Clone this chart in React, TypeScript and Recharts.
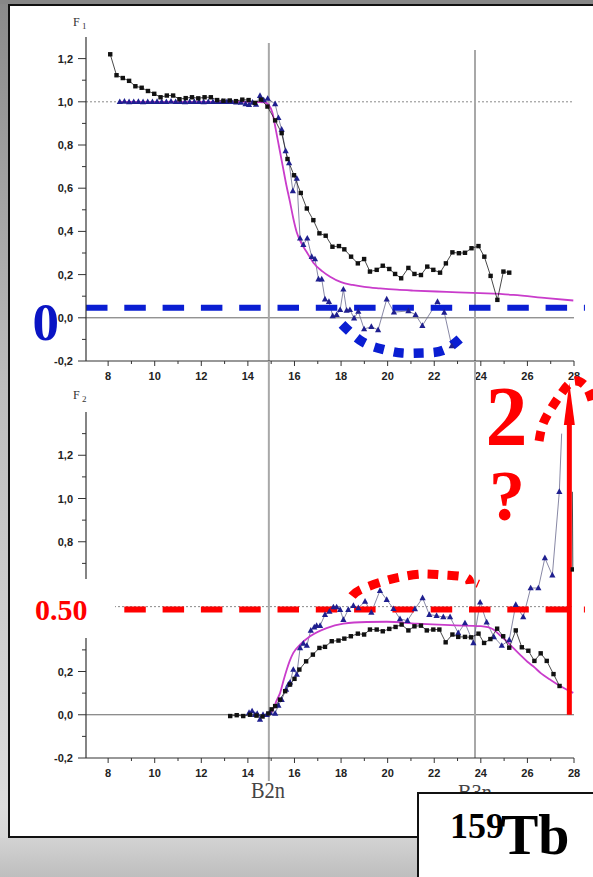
import React from 'react';
import { ComposedChart, Line, XAxis, YAxis, ReferenceLine } from 'recharts';

// ---------------- axes ----------------
const xTicks = [8, 9, 10, 11, 12, 13, 14, 15, 16, 17, 18, 19, 20, 21, 22, 23, 24, 25, 26, 27, 28];
const yTicksF1 = [-0.2, -0.1, 0, 0.1, 0.2, 0.3, 0.4, 0.5, 0.6, 0.7, 0.8, 0.9, 1.0, 1.1, 1.2];
const yTicksF2 = [-0.2, -0.1, 0, 0.1, 0.2, 0.3, 0.4, 0.5, 0.6, 0.7, 0.8, 0.9, 1.0, 1.1, 1.2, 1.3];
const f2HiddenLabels = [0.4, 0.6]; // covered by the "0.50" box in the reference
const xDomain = [7.05, 28];
const f1Domain = [-0.2, 1.3];
const f2Domain = [-0.2, 1.4];

// ---------------- F1 panel ----------------
const f1BlackX = [8.09, 8.36, 8.63, 8.9, 9.17, 9.44, 9.71, 9.98, 10.25, 10.52, 10.79, 11.06, 11.33, 11.6, 11.87, 12.14, 12.41, 12.68, 12.95, 13.22, 13.49, 13.76, 14.03, 14.3, 14.57, 14.84, 15.17, 15.45, 15.7, 15.98, 16.27, 16.53, 16.81, 17.07, 17.34, 17.63, 17.91, 18.14, 18.43, 18.72, 18.99, 19.24, 19.53, 19.79, 20.07, 20.32, 20.58, 20.89, 21.15, 21.43, 21.7, 21.96, 22.25, 22.5, 22.78, 23.06, 23.32, 23.6, 23.9, 24.15, 24.42, 24.71, 24.97, 25.22];
const f1BlackY = [1.22, 1.123, 1.11, 1.097, 1.072, 1.065, 1.05, 1.037, 1.021, 1.029, 1.029, 1.012, 1.017, 1.021, 1.016, 1.021, 1.021, 1.008, 1.005, 1.006, 1.003, 1.01, 1.008, 0.995, 1.01, 0.978, 0.914, 0.855, 0.735, 0.66, 0.578, 0.506, 0.452, 0.391, 0.38, 0.329, 0.332, 0.317, 0.283, 0.252, 0.272, 0.214, 0.222, 0.241, 0.226, 0.203, 0.183, 0.231, 0.203, 0.198, 0.237, 0.222, 0.209, 0.252, 0.303, 0.299, 0.301, 0.322, 0.332, 0.283, 0.194, 0.083, 0.214, 0.209];

const f1BlueX = [8.5, 8.7, 8.9, 9.1, 9.3, 9.5, 9.7, 9.9, 10.1, 10.3, 10.5, 10.7, 10.9, 11.1, 11.3, 11.5, 11.7, 11.9, 12.1, 12.3, 12.5, 12.7, 12.9, 13.1, 13.3, 13.5, 13.7, 13.9, 14.05, 14.2, 14.35, 14.52, 14.68, 14.85, 15.17, 15.31, 15.45, 15.62, 15.77, 15.93, 16.1, 16.24, 16.38, 16.55, 16.74, 16.88, 17.03, 17.17, 17.31, 17.48, 17.64, 17.81, 17.96, 18.1, 18.24, 18.38, 18.56, 18.74, 18.99, 19.3, 19.59, 19.96, 20.27, 20.89, 21.2, 21.49, 22.14, 22.43, 22.75];
const f1BlueY = [1.0, 1.002, 0.999, 1.0, 1.001, 0.999, 1.0, 1.0, 1.001, 1.0, 1.0, 1.002, 1.0, 1.0, 0.999, 1.0, 1.001, 1.0, 0.999, 1.0, 1.0, 1.0, 1.001, 1.0, 1.0, 0.998, 0.997, 0.99, 0.986, 0.997, 0.988, 1.028, 1.008, 1.015, 0.99, 0.926, 0.872, 0.773, 0.717, 0.587, 0.645, 0.368, 0.338, 0.368, 0.283, 0.272, 0.179, 0.179, 0.086, 0.075, 0.009, 0.014, 0.037, 0.132, 0.034, 0.037, -0.002, 0.029, -0.052, -0.041, -0.056, 0.086, 0.026, 0.032, 0.014, -0.036, 0.075, 0.025, -0.13];

const f1FitX = [8.47, 10, 12, 14, 14.7, 14.9, 15.05, 15.2, 15.35, 15.5, 15.65, 15.8, 15.95, 16.1, 16.3, 16.55, 16.81, 17.2, 17.53, 18, 18.5, 19, 19.67, 20.4, 21.1, 22.53, 23.97, 25.4, 26.83, 27.97];
const f1FitY = [1, 1, 1, 1, 0.998, 0.985, 0.95, 0.87, 0.785, 0.7, 0.615, 0.54, 0.46, 0.395, 0.345, 0.3, 0.255, 0.215, 0.19, 0.165, 0.152, 0.143, 0.136, 0.13, 0.126, 0.12, 0.114, 0.106, 0.091, 0.08];

// ---------------- F2 panel ----------------
const f2BlackX = [13.24, 13.52, 13.8, 14.09, 14.37, 14.63, 14.88, 15.02, 15.17, 15.38, 15.6, 15.81, 16.0, 16.21, 16.5, 16.79, 17.07, 17.31, 17.6, 17.89, 18.14, 18.42, 18.72, 18.99, 19.24, 19.53, 19.79, 20.07, 20.34, 20.6, 20.89, 21.15, 21.43, 21.68, 21.96, 22.22, 22.49, 22.78, 23.03, 23.32, 23.58, 23.9, 24.14, 24.41, 24.7, 24.96, 25.22, 25.5, 25.76, 26.04, 26.3, 26.57, 26.83, 27.12, 27.38];
const f2BlackY = [-0.006, -0.002, -0.006, 0.0, -0.004, -0.008, 0.006, 0.025, 0.04, 0.07, 0.109, 0.14, 0.166, 0.209, 0.247, 0.278, 0.309, 0.314, 0.34, 0.343, 0.352, 0.363, 0.375, 0.371, 0.394, 0.394, 0.386, 0.397, 0.406, 0.417, 0.39, 0.409, 0.412, 0.39, 0.394, 0.394, 0.335, 0.371, 0.36, 0.36, 0.358, 0.375, 0.332, 0.35, 0.398, 0.363, 0.31, 0.39, 0.312, 0.296, 0.249, 0.284, 0.249, 0.188, 0.133];
const f2BlackTailX = [27.93, 27.95];
const f2BlackTailY = [1.031, 0.672];

const f2BlueX = [14.05, 14.18, 14.3, 14.4, 14.52, 14.65, 14.81, 14.95, 15.17, 15.31, 15.45, 15.64, 15.74, 15.81, 15.95, 16.1, 16.24, 16.38, 16.53, 16.7, 16.85, 16.95, 17.1, 17.31, 17.5, 17.67, 17.81, 17.96, 18.1, 18.31, 18.53, 18.74, 19.03, 19.3, 19.67, 19.96, 20.25, 20.53, 20.85, 21.17, 21.5, 21.79, 22.1, 22.39, 22.68, 23.03, 23.32, 23.68, 23.97, 24.25, 24.56, 24.9, 25.22, 25.5, 25.82, 26.14, 26.47, 26.75, 27.07, 27.37, 27.47];
const f2BlueY = [0.01, 0.017, 0.0, 0.005, -0.022, 0.0, 0.0, 0.01, 0.006, 0.043, 0.07, 0.117, 0.14, 0.15, 0.209, 0.186, 0.309, 0.33, 0.32, 0.39, 0.405, 0.412, 0.412, 0.463, 0.478, 0.498, 0.498, 0.486, 0.44, 0.486, 0.504, 0.494, 0.524, 0.473, 0.574, 0.532, 0.49, 0.443, 0.435, 0.489, 0.54, 0.463, 0.458, 0.452, 0.452, 0.378, 0.424, 0.332, 0.52, 0.428, 0.36, 0.32, 0.346, 0.509, 0.452, 0.586, 0.586, 0.725, 0.645, 1.032, 1.3];

const f2FitX = [14.95, 15.1, 15.25, 15.38, 15.52, 15.67, 15.8, 15.95, 16.24, 16.67, 17.38, 18.1, 19.1, 19.96, 21.24, 22.68, 24.0, 24.3, 24.54, 24.8, 25.11, 25.4, 25.68, 26.0, 26.25, 26.6, 26.97, 27.3, 27.54, 27.97];
const f2FitY = [0.0, 0.03, 0.07, 0.1, 0.155, 0.209, 0.25, 0.286, 0.324, 0.363, 0.401, 0.421, 0.429, 0.43, 0.421, 0.414, 0.41, 0.405, 0.394, 0.37, 0.34, 0.308, 0.278, 0.245, 0.224, 0.19, 0.163, 0.14, 0.125, 0.101];

// ---------------- markers & annotations ----------------
const b2nX = 14.9;
const b3nX = 23.75;
const dashSpanX = [7.05, 28.47];
const blueLevel = 0.046;
const redLevel = 0.487;
const blueArcX = [18.04, 18.9, 19.76, 20.62, 21.52, 22.42, 23.28];
const blueArcY = [-0.03, -0.11, -0.145, -0.163, -0.163, -0.149, -0.08];
const redArcX = [18.47, 18.81, 19.75, 20.6, 21.51, 22.39, 23.32, 23.54];
const redArcY = [0.549, 0.577, 0.615, 0.638, 0.651, 0.646, 0.636, 0.605];
const arrowArcX = [26.5, 26.67, 27.06, 27.53, 28.0, 28.52, 28.82];
const arrowArcY = [1.266, 1.345, 1.423, 1.497, 1.543, 1.516, 1.437];
const arrowX = 27.8;
const arrowY = [0, 1.534];

const zip = (xs: number[], ys: number[]) => xs.map((x, i) => ({ x, y: ys[i] }));

const TICK_FONT = "'Liberation Sans', Arial, Helvetica, sans-serif";
const SERIF = "'Liberation Serif', 'Times New Roman', Times, serif";
const fmt = (v: number) => v.toFixed(1).replace('.', ',');

function XTick(props: any) {
  const { x, y, payload } = props;
  const v = payload.value;
  const major = Math.round(v) % 2 === 0;
  return (
    <g>
      <line x1={x} y1={y} x2={x} y2={y + (major ? 5 : 3)} stroke="#333" strokeWidth={1} />
      {major && (
        <text x={x} y={y + 19} textAnchor="middle" fontFamily={TICK_FONT} fontWeight="bold" fontSize={11} fill="#222">
          {v}
        </text>
      )}
    </g>
  );
}

function makeYTick(hidden: number[]) {
  return function YTick(props: any) {
    const { x, y, payload } = props;
    const v = payload.value;
    const major = Math.round(v * 10) % 2 === 0;
    const showLabel = major && !hidden.some((h) => Math.abs(h - v) < 1e-6);
    return (
      <g>
        <line x1={x - (major ? 8 : 4)} y1={y} x2={x} y2={y} stroke="#333" strokeWidth={1} />
        {showLabel && (
          <text x={x - 13} y={y + 4} textAnchor="end" fontFamily={TICK_FONT} fontWeight="bold" fontSize={11} fill="#222">
            {fmt(v)}
          </text>
        )}
      </g>
    );
  };
}
const YTickF1 = makeYTick([]);
const YTickF2 = makeYTick(f2HiddenLabels);

const squareDot = (p: any) =>
  p.cx == null ? <g key={`s${p.index}`} /> : (
    <rect key={`s${p.index}`} x={p.cx - 2.2} y={p.cy - 2.2} width={4.4} height={4.4} fill="#111" />
  );
const triDot = (p: any) =>
  p.cx == null ? <g key={`t${p.index}`} /> : (
    <polygon
      key={`t${p.index}`}
      points={`${p.cx},${p.cy - 3.4} ${p.cx - 3.1},${p.cy + 2.3} ${p.cx + 3.1},${p.cy + 2.3}`}
      fill="#1f1f8f"
    />
  );

const ArrowShape = (p: any) => {
  const { x1, y1, x2, y2 } = p;
  const bx = (x1 + x2) / 2;
  const by = Math.max(y1, y2);
  const ty = Math.min(y1, y2);
  return (
    <g>
      <line x1={bx} y1={by} x2={bx} y2={ty + 38} stroke="#ff0000" strokeWidth={5} />
      <polygon points={`${bx},${ty} ${bx - 5.5},${ty + 42} ${bx + 5.5},${ty + 42}`} fill="#ff0000" />
    </g>
  );
};

const axisCommon = {
  tickSize: 0,
  tickMargin: 0,
  tickLine: false,
  interval: 0 as const,
  allowDataOverflow: true,
  axisLine: { stroke: '#333', strokeWidth: 1.2 },
};

const FIT_COLOR = '#c93ccb';

function TopChart() {
  return (
    <ComposedChart width={593} height={390} margin={{ top: 37, right: 19, bottom: 0, left: 0 }}>
      <XAxis type="number" dataKey="x" domain={xDomain} ticks={xTicks} tick={(p: any) => <XTick {...p} />} height={29} {...axisCommon} />
      <YAxis type="number" dataKey="y" domain={f1Domain} ticks={yTicksF1} tick={(p: any) => <YTickF1 {...p} />} width={86} {...axisCommon} />
      <ReferenceLine y={1} stroke="#8a8a8a" strokeDasharray="2 2" strokeWidth={1} />
      <ReferenceLine y={0} stroke="#555" strokeWidth={0.9} />
      <ReferenceLine segment={[{ x: b2nX, y: 1.272 }, { x: b2nX, y: -0.2 }]} stroke="#a8a8a8" strokeWidth={2} ifOverflow="visible" />
      <ReferenceLine segment={[{ x: b3nX, y: 1.24 }, { x: b3nX, y: -0.2 }]} stroke="#a8a8a8" strokeWidth={2} ifOverflow="visible" />
      <Line data={zip(f1BlueX, f1BlueY)} dataKey="y" type="linear" stroke="#6a6a8e" strokeWidth={0.8} dot={triDot} activeDot={false} isAnimationActive={false} />
      <Line data={zip(f1FitX, f1FitY)} dataKey="y" type="monotone" stroke={FIT_COLOR} strokeWidth={1.8} dot={false} activeDot={false} isAnimationActive={false} />
      <Line data={zip(f1BlackX, f1BlackY)} dataKey="y" type="linear" stroke="#1a1a1a" strokeWidth={0.8} dot={squareDot} activeDot={false} isAnimationActive={false} />
      <Line className="noclip" data={zip(dashSpanX, [blueLevel, blueLevel])} dataKey="y" type="linear" stroke="#0a1ed2" strokeWidth={6} strokeDasharray="21.5 16.8" dot={false} activeDot={false} isAnimationActive={false} />
      <Line data={zip(blueArcX, blueArcY)} dataKey="y" type="natural" stroke="#0a1ed2" strokeWidth={9.5} strokeDasharray="10 10" dot={false} activeDot={false} isAnimationActive={false} />
    </ComposedChart>
  );
}

function BottomChart() {
  const blueData = zip(f2BlueX, f2BlueY);
  const blueDot = (p: any) => (p.index === blueData.length - 1 ? <g key={`t${p.index}`} /> : triDot(p));
  const tailData = zip(f2BlackTailX, f2BlackTailY);
  const tailDot = (p: any) => (p.index === tailData.length - 1 ? squareDot(p) : <g key={`q${p.index}`} />);
  return (
    <ComposedChart width={593} height={490} margin={{ top: 62, right: 19, bottom: 0, left: 0 }}>
      <XAxis type="number" dataKey="x" domain={xDomain} ticks={xTicks} tick={(p: any) => <XTick {...p} />} height={82} {...axisCommon} />
      <YAxis type="number" dataKey="y" domain={f2Domain} ticks={yTicksF2} tick={(p: any) => <YTickF2 {...p} />} width={86} {...axisCommon} />
      <ReferenceLine y={0.5} stroke="#8a8a8a" strokeDasharray="2 2" strokeWidth={1} />
      <ReferenceLine y={0} stroke="#555" strokeWidth={0.9} />
      <ReferenceLine segment={[{ x: b2nX, y: 1.636 }, { x: b2nX, y: -0.306 }]} stroke="#a8a8a8" strokeWidth={2} ifOverflow="visible" />
      <ReferenceLine segment={[{ x: b3nX, y: 1.636 }, { x: b3nX, y: -0.2 }]} stroke="#a8a8a8" strokeWidth={2} ifOverflow="visible" />
      <Line data={blueData} dataKey="y" type="linear" stroke="#6a6a8e" strokeWidth={0.8} dot={blueDot} activeDot={false} isAnimationActive={false} />
      <Line data={zip(f2FitX, f2FitY)} dataKey="y" type="monotone" stroke={FIT_COLOR} strokeWidth={1.8} dot={false} activeDot={false} isAnimationActive={false} />
      <Line data={zip(f2BlackX, f2BlackY)} dataKey="y" type="linear" stroke="#1a1a1a" strokeWidth={0.8} dot={squareDot} activeDot={false} isAnimationActive={false} />
      <Line data={tailData} dataKey="y" type="linear" stroke="#1a1a1a" strokeWidth={0.8} dot={tailDot} activeDot={false} isAnimationActive={false} />
      <Line className="noclip" data={zip(dashSpanX, [redLevel, redLevel])} dataKey="y" type="linear" stroke="#ff0000" strokeWidth={6} strokeDasharray="21.5 16.8" dot={false} activeDot={false} isAnimationActive={false} />
      <Line data={zip(redArcX, redArcY)} dataKey="y" type="natural" stroke="#ff0000" strokeWidth={9} strokeDasharray="11 9" dot={false} activeDot={false} isAnimationActive={false} />
      <Line className="noclip" data={zip(arrowArcX, arrowArcY)} dataKey="y" type="natural" stroke="#ff0000" strokeWidth={9} strokeDasharray="10 8" dot={false} activeDot={false} isAnimationActive={false} />
      <ReferenceLine segment={[{ x: 23.94, y: 0.624 }, { x: 23.8, y: 0.589 }]} stroke="#ff0000" strokeWidth={1.3} ifOverflow="visible" />
      <ReferenceLine segment={[{ x: arrowX, y: arrowY[0] }, { x: arrowX, y: arrowY[1] }]} stroke="#ff0000" ifOverflow="visible" shape={ArrowShape} />
    </ComposedChart>
  );
}

export default function App() {
  return (
    <div style={{ position: 'absolute', left: 0, top: 0, width: 593, height: 877, overflow: 'hidden', background: '#c8c8c8' }}>
      <style>{`.noclip, .noclip * { clip-path: none !important; } .recharts-surface { overflow: visible; }`}</style>
      <div style={{ position: 'absolute', left: 0, top: 0, width: 8, height: 877, background: 'linear-gradient(180deg,#8a8a8a 0%,#bdbdbd 45%,#dcdcdc 92%,#cfcfcf 100%)' }} />
      <div style={{ position: 'absolute', left: 0, top: 0, width: 593, height: 4, background: '#878787' }} />
      <div style={{ position: 'absolute', left: 0, top: 838, width: 593, height: 39, background: 'linear-gradient(180deg,#d3d3d3,#bebebe)' }} />
      <div style={{ position: 'absolute', left: 8, top: 4, width: 585, height: 834, background: '#fff', borderLeft: '2px solid #111', borderTop: '2px solid #111', borderBottom: '2px solid #111', boxSizing: 'border-box' }} />
      <div style={{ position: 'absolute', left: 0, top: 0 }}>
        <TopChart />
      </div>
      <div style={{ position: 'absolute', left: 0, top: 350 }}>
        <BottomChart />
      </div>
      <svg width={593} height={877} style={{ position: 'absolute', left: 0, top: 0, pointerEvents: 'none' }}>
        <text x={73} y={25.5} fontFamily={SERIF} fontSize={12} fill="#333">F</text>
        <text x={82} y={29} fontFamily={SERIF} fontSize={9} fill="#333">1</text>
        <text x={73} y={398.5} fontFamily={SERIF} fontSize={12} fill="#333">F</text>
        <text x={82} y={402} fontFamily={SERIF} fontSize={9} fill="#333">2</text>
        <text x={32.5} y={340} fontFamily={SERIF} fontSize={53} fontWeight="bold" fill="#0a14c4">0</text>
        <rect x={20} y={579} width={95} height={59} fill="#fff" />
        <text x={35} y={620} fontFamily={SERIF} fontSize={30} fontWeight="bold" fill="#ff0000">0.50</text>
        <text x={485.5} y={445} fontFamily={SERIF} fontSize={84} fontWeight="bold" fill="#ff0000">2</text>
        <text x={489} y={520} fontFamily={SERIF} fontSize={72} fontWeight="bold" fill="#ff0000">?</text>
        <text x={268} y={798} textAnchor="middle" fontFamily={SERIF} fontSize={24} fill="#444" textLength={34} lengthAdjust="spacingAndGlyphs">B2n</text>
        <text x={475} y={800} textAnchor="middle" fontFamily={SERIF} fontSize={24} fill="#444" textLength={34} lengthAdjust="spacingAndGlyphs">B3n</text>
        <rect x={418} y={793} width={180} height={90} fill="#fff" stroke="#111" strokeWidth={2} />
        <text x={450} y={838} fontFamily={SERIF} fontSize={36} fontWeight="bold" fill="#000">159</text>
        <text x={501} y={854} fontFamily={SERIF} fontSize={56} fontWeight="bold" fill="#000">Tb</text>
      </svg>
    </div>
  );
}
